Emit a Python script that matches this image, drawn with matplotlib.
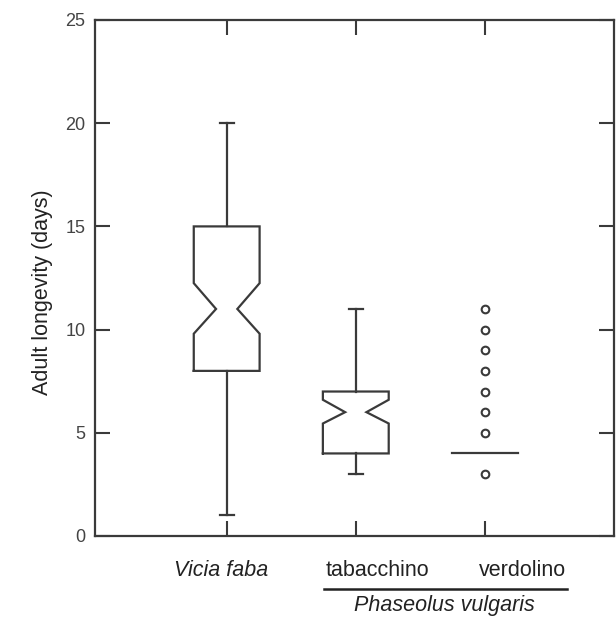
import matplotlib.pyplot as plt
import matplotlib.transforms as mtransforms

plt.rcParams['font.family'] = ['Liberation Sans', 'DejaVu Sans']

# data
groups = ['Vicia faba', 'tabacchino', 'verdolino']
positions = [1, 2, 3]
q1 = [8, 4, 4]
q3 = [15, 7, 4]
medians = [11, 6, 4]
notch_lo = [9.8, 5.45, None]
notch_hi = [12.25, 6.6, None]
whisk_lo = [1, 3, 4]
whisk_hi = [20, 11, 4]
fliers = [[], [], [3, 5, 6, 7, 8, 9, 10, 11]]
yticks = [0, 5, 10, 15, 20, 25]

col = '#3a3a3a'
lw = 1.6
box_w = 0.51
waist_w = 0.165
cap_w = 0.11

fig = plt.figure(figsize=(6.16, 6.22), dpi=100)
ax = fig.add_axes([95 / 616, 1 - 536 / 622, (614 - 95) / 616, (536 - 20) / 622])

for i, x in enumerate(positions):
    l, r = x - box_w / 2, x + box_w / 2
    if q3[i] > q1[i]:
        # notched box
        xs = [l, l, x - waist_w / 2, l, l, r, r, x + waist_w / 2, r, r, l]
        ys = [q1[i], notch_lo[i], medians[i], notch_hi[i], q3[i], q3[i],
              notch_hi[i], medians[i], notch_lo[i], q1[i], q1[i]]
        ax.plot(xs, ys, color=col, lw=lw, solid_joinstyle='miter')
        # whiskers + caps
        ax.plot([x, x], [q3[i], whisk_hi[i]], color=col, lw=lw)
        ax.plot([x, x], [q1[i], whisk_lo[i]], color=col, lw=lw)
        ax.plot([x - cap_w / 2, x + cap_w / 2], [whisk_hi[i]] * 2, color=col, lw=lw)
        ax.plot([x - cap_w / 2, x + cap_w / 2], [whisk_lo[i]] * 2, color=col, lw=lw)
    else:
        ax.plot([l, r], [medians[i]] * 2, color=col, lw=lw)
    if fliers[i]:
        ax.plot([x] * len(fliers[i]), fliers[i], 'o', ms=5.5, mfc='white',
                mec=col, mew=1.5)

ax.set_xlim(-0.02, 4.0)
ax.set_ylim(0, 25)
ax.set_yticks(yticks)
ax.set_xticks(positions)
ax.set_xticklabels([])
ax.tick_params(axis='both', direction='in', length=11, width=1.5, color=col,
               top=True, right=True, labelsize=13, labelcolor='#444444', pad=7)
for s in ax.spines.values():
    s.set_color(col)
    s.set_linewidth(1.6)

ax.set_ylabel('Adult longevity (days)', fontsize=15.5, color='#222222')
ax.yaxis.set_label_coords(-0.081, (536 - 292) / 516)

# group labels under the axis
trans = mtransforms.blended_transform_factory(ax.transData, fig.transFigure)
ax.text(0.956, 1 - 570 / 622, groups[0], transform=trans, ha='center', va='center',
        fontsize=15.5, style='italic', color='#222222')
ax.text(2.17, 1 - 570 / 622, groups[1], transform=trans, ha='center', va='center',
        fontsize=15.5, color='#222222')
ax.text(3.295, 1 - 570 / 622, groups[2], transform=trans, ha='center', va='center',
        fontsize=15.5, color='#222222')
ax.plot([1.754, 3.636], [1 - 589 / 622] * 2, transform=trans, color='#222222',
        lw=1.8, clip_on=False)
ax.text(2.683, 1 - 606 / 622, 'Phaseolus vulgaris', transform=trans, ha='center',
        va='center', fontsize=15.5, style='italic', color='#222222')

fig.savefig('out.png', dpi=100)
